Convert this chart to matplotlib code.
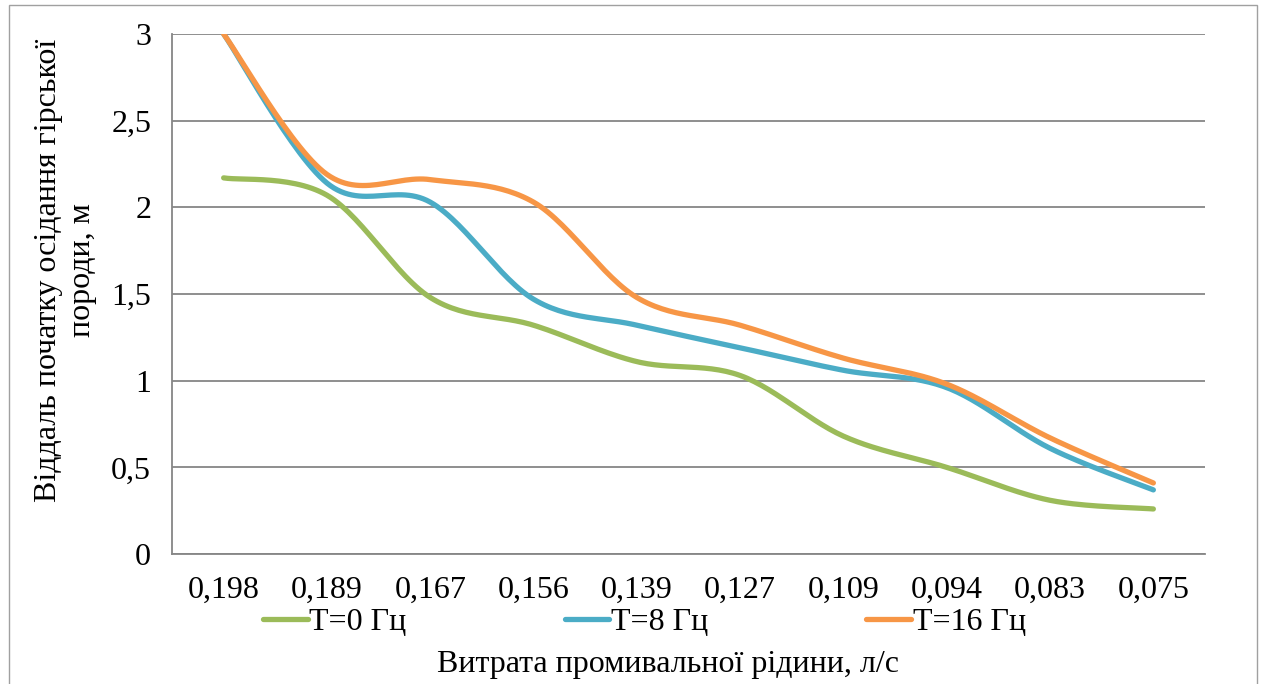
import numpy as np
import matplotlib.pyplot as plt
from matplotlib.patches import Rectangle

plt.rcParams['font.family'] = ['Liberation Serif', 'DejaVu Serif']

# витрата рідини, л/с (категорії осі X)
categories = ['0,198', '0,189', '0,167', '0,156', '0,139', '0,127', '0,109', '0,094', '0,083', '0,075']
# відстань початку осідання, м
t0 = [2.17, 2.07, 1.48, 1.32, 1.11, 1.03, 0.68, 0.50, 0.31, 0.26]
t8 = [3.00, 2.14, 2.03, 1.47, 1.32, 1.19, 1.06, 0.96, 0.61, 0.37]
t16 = [3.00, 2.19, 2.16, 2.03, 1.48, 1.32, 1.13, 0.98, 0.67, 0.41]
labels = ['T=0 Гц', 'T=8 Гц', 'T=16 Гц']
colors = ['#9BBB59', '#4BACC6', '#F79646']


def smooth(y, n=30):
    # згладжування як в Excel (кубічні Безьє / Catmull-Rom)
    y = np.asarray(y, dtype=float)
    x = np.arange(len(y), dtype=float)
    pts = np.column_stack([x, y])
    out = []
    for i in range(len(pts) - 1):
        p0 = pts[i - 1] if i > 0 else pts[i]
        p1 = pts[i]
        p2 = pts[i + 1]
        p3 = pts[i + 2] if i + 2 < len(pts) else pts[i + 1]
        c1 = p1 + (p2 - p0) / 6
        c2 = p2 - (p3 - p1) / 6
        t = np.linspace(0, 1, n)[:, None]
        seg = (1 - t) ** 3 * p1 + 3 * (1 - t) ** 2 * t * c1 + 3 * (1 - t) * t ** 2 * c2 + t ** 3 * p2
        out.append(seg if i == 0 else seg[1:])
    s = np.vstack(out)
    return s[:, 0], s[:, 1]


fig = plt.figure(figsize=(12.61, 6.84), dpi=100)
ax = fig.add_axes([0.1364, 0.19, 0.8192, 0.7603])

for y, lab, c in zip([t0, t8, t16], labels, colors):
    xs, ys = smooth(y)
    ax.plot(xs, ys, color=c, lw=3.8, solid_capstyle='round', label=lab)

ax.set_xlim(-0.5, len(categories) - 0.5)
ax.set_ylim(0, 3)
ax.set_yticks(np.arange(0, 3.01, 0.5))
ax.set_yticklabels(['0', '0,5', '1', '1,5', '2', '2,5', '3'])
ax.set_xticks(range(len(categories)))
ax.set_xticklabels(categories)
ax.tick_params(axis='both', length=0, labelsize=23, colors='black')
ax.tick_params(axis='y', pad=15)
ax.tick_params(axis='x', pad=16)
ax.grid(axis='y', color='#868686', lw=1.3)
ax.set_axisbelow(True)
for side in ['top', 'right']:
    ax.spines[side].set_visible(False)
ax.spines['left'].set_color('#868686')
ax.spines['bottom'].set_color('#868686')
ax.spines['left'].set_linewidth(1.3)
ax.spines['bottom'].set_linewidth(1.3)

fig.text(0.052, 0.605, 'Віддаль початку осідання гірської\nпороди, м', rotation=90,
         ha='center', va='center', fontsize=23, linespacing=1.25)
fig.text(0.53, 0.028, 'Витрата промивальної рідини, л/с', ha='center', va='center', fontsize=23)

leg = fig.legend(loc='center', bbox_to_anchor=(0.511, 0.09), ncol=3, frameon=False,
                 fontsize=23, handlelength=1.4, handletextpad=0.05, columnspacing=4.95)

fig.patches.append(Rectangle((0.007, -0.01), 0.99, 1.002, transform=fig.transFigure,
                             fill=False, edgecolor='#A0A0A0', lw=1.0))

fig.savefig('out.png', dpi=100)
